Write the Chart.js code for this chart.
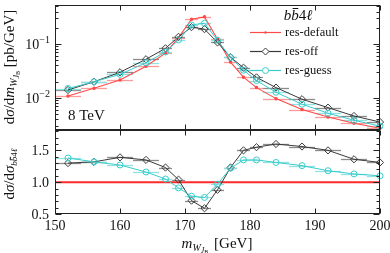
<!DOCTYPE html>
<html><head><meta charset="utf-8">
<script src="https://cdn.jsdelivr.net/npm/chart.js@4/dist/chart.umd.min.js"></script>
<style>
html,body{margin:0;padding:0;background:#fff;width:390px;height:253px;overflow:hidden}
#wrap{position:relative;width:390px;height:253px}
canvas{position:absolute;left:0;top:0}
</style></head><body>
<div id="wrap"><canvas id="cTop" width="390" height="253"></canvas><canvas id="cBot" width="390" height="253"></canvas></div>
<script>
// ---- data ----
const mass = [152,156,160,164,167,169,171,173,175,177,179,181,184,188,192,196,200];
const binHalf = [2,2,2,2,1,1,1,1,1,1,1,1,2,2,2,2,2];
const resDefault = [0.0107,0.0150,0.0214,0.0385,0.0676,0.131,0.29,0.32,0.122,0.046,0.0241,0.0154,0.0096,0.0060,0.00435,0.00335,0.00269];
const resOff     = [0.0139,0.0198,0.0297,0.0520,0.0831,0.136,0.206,0.189,0.107,0.0566,0.0362,0.0239,0.0154,0.00936,0.00652,0.00456,0.00352];
const resGuess   = [0.0148,0.0198,0.0272,0.0447,0.0710,0.119,0.226,0.243,0.118,0.0561,0.0325,0.0208,0.0126,0.00756,0.00513,0.00379,0.00296];
const ratioOff   = [1.30,1.32,1.39,1.35,1.23,1.04,0.71,0.59,0.88,1.23,1.50,1.55,1.60,1.56,1.50,1.36,1.31];
const ratioGuess = [1.38,1.32,1.27,1.16,1.05,0.91,0.78,0.76,0.97,1.22,1.35,1.35,1.31,1.26,1.18,1.13,1.10];
const ratioDefX  = [150,200];
const ratioDefY  = [1.0,1.0];
const xTicks = [150,160,170,180,190,200];
const topMajor = [0.01,0.1];
const topMajorExp = ['\u22122','\u22121'];
const ratioMajor = [0.5,1.0,1.5];
const ratioLabels = ['0.5','1.0','1.5'];
const legendLabels = ['res-default','res-off','res-guess'];

// ---- styles ----
const RED='#ff4a4a', RED_E='#ff9a9a', BLK='#3a3a3a', BLK_E='#8c8c8c', CYN='#3acccc', CYN_E='#90e2e2';
const SERIF='"Liberation Serif","DejaVu Serif",serif';
const pts = arr => mass.map((x,i)=>({x:x,y:arr[i]}));
const fnt = p => (p.it?'italic ':'') + (p.f||15) + 'px ' + SERIF;
function rich(ctx, parts, x, y, align){
  let w=0;
  parts.forEach(p=>{ctx.font=fnt(p); p.w=ctx.measureText(p.t).width; w+=p.w+(p.sp||0);});
  let cx = align==='center' ? x-w/2 : (align==='right' ? x-w : x);
  ctx.textAlign='left'; ctx.textBaseline='alphabetic';
  parts.forEach(p=>{
    ctx.font=fnt(p);
    const yy=y+(p.dy||0);
    ctx.fillText(p.t,cx,yy);
    if(p.bar){ctx.fillRect(cx+p.w*0.2, yy-(p.f||15)*0.8, p.w*0.75, 1);}
    cx+=p.w+(p.sp||0);
  });
}

const errPlugin = {
  id:'errbars',
  beforeDatasetsDraw(chart){
    const ctx=chart.ctx, a=chart.chartArea, xs=chart.scales.x, ys=chart.scales.y;
    ctx.save();
    ctx.beginPath(); ctx.rect(a.left,a.top,a.right-a.left,a.bottom-a.top); ctx.clip();
    chart.data.datasets.forEach(ds=>{
      if(!ds.xerr) return;
      ctx.strokeStyle=ds.errColor; ctx.lineWidth=1.3;
      ds.data.forEach((p,i)=>{
        const y=Math.round(ys.getPixelForValue(p.y))+0.5;
        ctx.beginPath();
        ctx.moveTo(xs.getPixelForValue(p.x-ds.xerr[i]),y);
        ctx.lineTo(xs.getPixelForValue(p.x+ds.xerr[i]),y);
        ctx.stroke();
      });
    });
    ctx.restore();
  }
};

function frame(chart, yTicksMajor, yTicksMinor){
  const ctx=chart.ctx, a=chart.chartArea, xs=chart.scales.x, ys=chart.scales.y;
  ctx.save();
  ctx.strokeStyle='#222'; ctx.lineWidth=1;
  const L=Math.round(a.left)+0.5, R=Math.round(a.right)-0.5, T=Math.round(a.top)+0.5, B=Math.round(a.bottom)-0.5;
  ctx.strokeRect(L,T,R-L,B-T);
  ctx.beginPath();
  xTicks.forEach(v=>{const x=Math.round(xs.getPixelForValue(v))+0.5; ctx.moveTo(x,B); ctx.lineTo(x,B-5); ctx.moveTo(x,T); ctx.lineTo(x,T+5);});
  yTicksMajor.forEach(v=>{const y=Math.round(ys.getPixelForValue(v))+0.5; ctx.moveTo(L,y); ctx.lineTo(L+6,y); ctx.moveTo(R,y); ctx.lineTo(R-6,y);});
  yTicksMinor.forEach(v=>{const y=Math.round(ys.getPixelForValue(v))+0.5; if(y<T||y>B) return; ctx.moveTo(L,y); ctx.lineTo(L+3,y); ctx.moveTo(R,y); ctx.lineTo(R-3,y);});
  ctx.stroke();
  ctx.restore();
}

const topMinor=[]; [0.001,0.01,0.1].forEach(d=>{for(let k=2;k<=9;k++) topMinor.push(d*k);});
const botMinor=[]; for(let v=0.6; v<1.85; v+=0.1){ if(Math.abs(v-1.0)>1e-6 && Math.abs(v-1.5)>1e-6) botMinor.push(+v.toFixed(2)); }

const topDeco = {
  id:'topDeco',
  afterDraw(chart){
    const ctx=chart.ctx, ys=chart.scales.y;
    frame(chart, topMajor, topMinor);
    ctx.save(); ctx.fillStyle='#111';
    topMajor.forEach((v,i)=>{
      const y=ys.getPixelForValue(v);
      rich(ctx,[{t:'10',f:14},{t:topMajorExp[i],f:10,dy:-6}],50,y+5,'right');
    });
    rich(ctx,[{t:'8 TeV',f:15}],68,120,'left');
    // y title (rotated)
    ctx.save(); ctx.translate(14,67); ctx.rotate(-Math.PI/2);
    rich(ctx,[{t:'d',f:15},{t:'\u03c3',f:15,it:true},{t:'/d',f:15},{t:'m',f:15,it:true},{t:'W',f:10,it:true,dy:3},{t:'J',f:8,it:true,dy:5},{t:'B',f:6,dy:6},{t:' [pb/GeV]',f:15}],0,0,'center');
    ctx.restore();
    // legend
    rich(ctx,[{t:'b',f:15,it:true},{t:'b',f:15,it:true,bar:true},{t:'4',f:15},{t:'\u2113',f:15,it:true}],298,20,'center');
    const rows=[{y:32,c:RED,m:'dot'},{y:51,c:BLK,m:'dia'},{y:70,c:CYN,m:'circ'}];
    rows.forEach((r,i)=>{
      ctx.strokeStyle=r.c; ctx.lineWidth=1.2;
      ctx.beginPath(); ctx.moveTo(250,r.y+0.5); ctx.lineTo(281,r.y+0.5); ctx.stroke();
      ctx.lineWidth=1;
      if(r.m==='dot'){ctx.fillStyle=r.c; ctx.beginPath(); ctx.arc(265.5,r.y+0.5,1.2,0,Math.PI*2); ctx.fill();}
      if(r.m==='dia'){ctx.fillStyle='#fff'; ctx.beginPath(); ctx.moveTo(265.5,r.y-3); ctx.lineTo(269,r.y+0.5); ctx.lineTo(265.5,r.y+4); ctx.lineTo(262,r.y+0.5); ctx.closePath(); ctx.fill(); ctx.stroke();}
      if(r.m==='circ'){ctx.fillStyle='#fff'; ctx.beginPath(); ctx.arc(265.5,r.y+0.5,3,0,Math.PI*2); ctx.fill(); ctx.stroke();}
      ctx.fillStyle='#111';
      rich(ctx,[{t:legendLabels[i],f:12.5}],285,r.y+4,'left');
    });
    ctx.restore();
  }
};

const botDeco = {
  id:'botDeco',
  afterDraw(chart){
    const ctx=chart.ctx, ys=chart.scales.y, xs=chart.scales.x;
    frame(chart, ratioMajor, botMinor);
    ctx.save(); ctx.fillStyle='#111';
    ratioMajor.forEach((v,i)=>{ rich(ctx,[{t:ratioLabels[i],f:14}],49,ys.getPixelForValue(v)+5,'right'); });
    xTicks.forEach(v=>{ rich(ctx,[{t:String(v),f:14}],xs.getPixelForValue(v),230,'center'); });
    rich(ctx,[{t:'m',f:15,it:true},{t:'W',f:10,it:true,dy:3},{t:'J',f:8,it:true,dy:5},{t:'B',f:6,dy:6,sp:2},{t:' [GeV]',f:15}],217,248,'center');
    ctx.save(); ctx.translate(14,174); ctx.rotate(-Math.PI/2);
    rich(ctx,[{t:'d',f:15},{t:'\u03c3',f:15,it:true},{t:'/d',f:15},{t:'\u03c3',f:15,it:true},{t:'b',f:9,it:true,dy:3},{t:'b',f:9,it:true,dy:3,bar:true},{t:'4',f:9,dy:3},{t:'\u2113',f:9,it:true,dy:3}],0,0,'center');
    ctx.restore();
    ctx.restore();
  }
};

const common = (pad)=>({
  responsive:false, animation:false, devicePixelRatio:1,
  layout:{padding:pad},
  plugins:{legend:{display:false},tooltip:{enabled:false}},
  events:[]
});

const topOpts = common({left:55,right:10,top:5,bottom:123});
topOpts.scales = {
  x:{type:'linear',min:150,max:200,display:false},
  y:{type:'logarithmic',min:0.0025,max:0.53,display:false}
};
new Chart(document.getElementById('cTop'),{
  type:'line',
  data:{datasets:[
    {label:legendLabels[0],data:pts(resDefault),borderColor:RED,borderWidth:1.1,pointRadius:1.2,pointBackgroundColor:RED,pointBorderColor:RED,xerr:binHalf,errColor:RED_E,clip:false,order:3},
    {label:legendLabels[1],data:pts(resOff),borderColor:BLK,borderWidth:1,pointStyle:'rectRot',pointRadius:3.6,pointBorderWidth:1,pointBackgroundColor:'rgba(255,255,255,0)',pointBorderColor:BLK,xerr:binHalf,errColor:BLK_E,clip:false,order:2},
    {label:legendLabels[2],data:pts(resGuess),borderColor:CYN,borderWidth:1,pointStyle:'circle',pointRadius:3,pointBorderWidth:1,pointBackgroundColor:'rgba(255,255,255,0)',pointBorderColor:CYN,xerr:binHalf,errColor:CYN_E,clip:false,order:1}
  ]},
  options:topOpts,
  plugins:[errPlugin,topDeco]
});

const botOpts = common({left:55,right:10,top:130,bottom:39});
botOpts.scales = {
  x:{type:'linear',min:150,max:200,display:false},
  y:{type:'linear',min:0.5,max:1.82,display:false}
};
new Chart(document.getElementById('cBot'),{
  type:'line',
  data:{datasets:[
    {label:legendLabels[0],data:ratioDefX.map((x,i)=>({x:x,y:ratioDefY[i]})),borderColor:'#ff2a2a',borderWidth:2,pointRadius:0,order:3},
    {label:legendLabels[1],data:pts(ratioOff),borderColor:BLK,borderWidth:1,pointStyle:'rectRot',pointRadius:3.6,pointBorderWidth:1,pointBackgroundColor:'rgba(255,255,255,0)',pointBorderColor:BLK,xerr:binHalf,errColor:BLK_E,clip:false,order:2},
    {label:legendLabels[2],data:pts(ratioGuess),borderColor:CYN,borderWidth:1,pointStyle:'circle',pointRadius:3,pointBorderWidth:1,pointBackgroundColor:'rgba(255,255,255,0)',pointBorderColor:CYN,xerr:binHalf,errColor:CYN_E,clip:false,order:1}
  ]},
  options:botOpts,
  plugins:[errPlugin,botDeco]
});
</script>
</body></html>
